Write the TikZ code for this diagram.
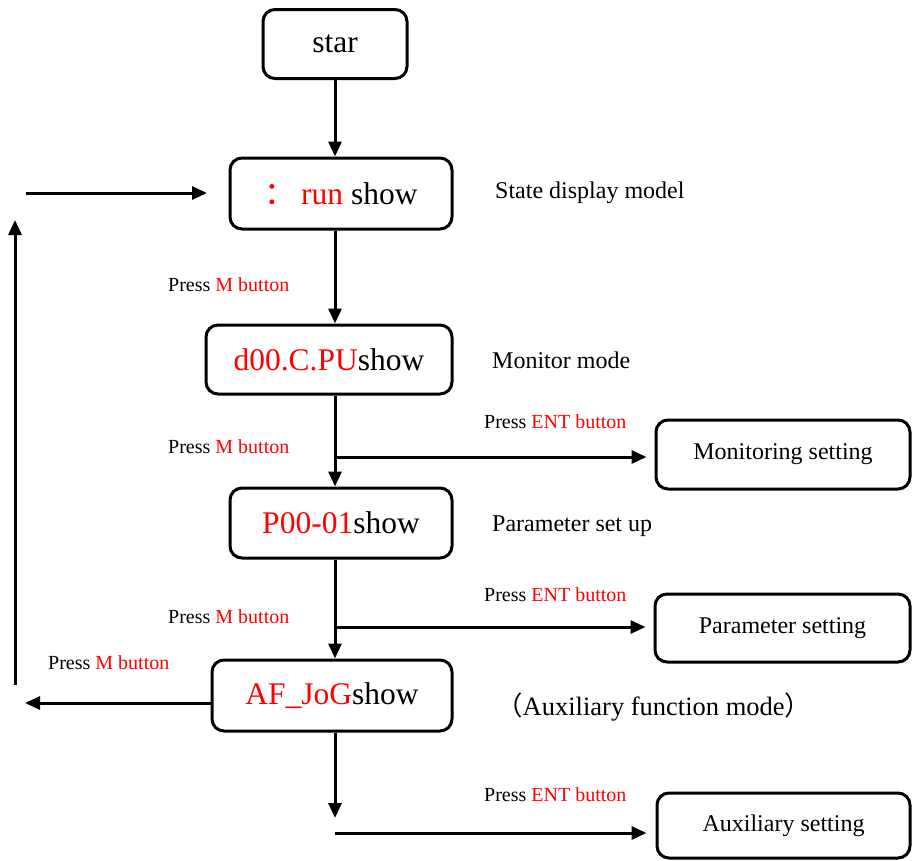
\documentclass[tikz,border=0pt]{standalone}
\usepackage{fontspec}
\setmainfont{Liberation Serif}
\newfontfamily\cjk{Noto Sans CJK SC}
\usetikzlibrary{arrows.meta}
\definecolor{pred}{RGB}{255,0,0}
\tikzset{
  stepbox/.style={draw=black,line width=3pt,rounded corners=12pt,inner sep=0pt,
     font=\fontsize{31.5}{34}\selectfont,text=black},
  setbox/.style={draw=black,line width=3pt,rounded corners=12pt,inner sep=0pt,
     font=\fontsize{24}{26}\selectfont,text=black},
  conn/.style={line width=3pt,-{Triangle[length=15pt,width=13pt]}},
  small/.style={anchor=base west,inner sep=0pt,font=\fontsize{20}{22}\selectfont},
  mid/.style={anchor=base west,inner sep=0pt,font=\fontsize{24}{26}\selectfont},
}
\begin{document}
\begin{tikzpicture}[x=1pt,y=-1pt]
\useasboundingbox (0,0) rectangle (912,860);
% main boxes
\node[stepbox,minimum width=144pt,minimum height=69pt] (star) at (335,44) {star};
\node[stepbox,minimum width=222pt,minimum height=71pt] (run) at (341,193.5) {\textcolor{pred}{\cjk：}\,\textcolor{pred}{run} show};
\node[stepbox,minimum width=246pt,minimum height=69pt] (mon) at (329,359.5) {\textcolor{pred}{d00.C.PU}show};
\node[stepbox,minimum width=222pt,minimum height=70pt] (par) at (341,523) {\textcolor{pred}{P00-01}show};
\node[stepbox,minimum width=240pt,minimum height=71pt] (aux) at (332,695.5) {\textcolor{pred}{AF\_JoG}show};
% setting boxes
\node[setbox,minimum width=254pt,minimum height=69pt] (monset) at (783,454.5) {Monitoring setting};
\node[setbox,minimum width=255pt,minimum height=68pt] (parset) at (782.5,628) {Parameter setting};
\node[setbox,minimum width=253pt,minimum height=65pt] (auxset) at (783.5,825.5) {Auxiliary setting};
% side labels
\node[mid] (l1) at (495,198) {State display model};
\node[mid] (l2) at (492,368) {Monitor mode};
\node[mid] (l3) at (492,531) {Parameter set up};
\node[anchor=base west,inner sep=0pt,font=\fontsize{26.5}{28}\selectfont] (l4) at (496,715) {{\cjk（}Auxiliary function mode{\cjk）}};
% press labels
\node[small] (p1) at (168,291) {Press \textcolor{pred}{M button}};
\node[small] (p2) at (168,453) {Press \textcolor{pred}{M button}};
\node[small] (p3) at (168,623) {Press \textcolor{pred}{M button}};
\node[small] (p4) at (48,669) {Press \textcolor{pred}{M button}};
\node[small] (e1) at (484,428) {Press \textcolor{pred}{ENT button}};
\node[small] (e2) at (484,601) {Press \textcolor{pred}{ENT button}};
\node[small] (e3) at (484,801) {Press \textcolor{pred}{ENT button}};
% coordinates
\coordinate (b1) at (335,457);
\coordinate (b2) at (335,627);
\coordinate (d1) at (335,818);
\coordinate (b3) at (335,833);
\coordinate (lA) at (25,703);
\coordinate (lB) at (15,685);
\coordinate (lC) at (15,220);
\coordinate (lD) at (26,193);
\coordinate (lE) at (207,193);
% connectors
\draw[conn] (star.south) -- (run.north -| star.south);
\draw[conn] (run.south -| star.south) -- (mon.north -| star.south);
\draw[conn] (mon.south -| star.south) -- (par.north -| star.south);
\draw[conn] (par.south -| star.south) -- (aux.north -| star.south);
\draw[conn,shorten >=8pt] (b1) -- (monset.west |- b1);
\draw[conn,shorten >=8pt] (b2) -- (parset.west |- b2);
\draw[conn] (aux.south -| star.south) -- (d1);
\draw[conn,shorten >=9pt] (b3) -- (auxset.west |- b3);
\draw[conn] (aux.west |- lA) -- (lA);
\draw[conn] (lB) -- (lC);
\draw[conn] (lD) -- (lE);
\end{tikzpicture}
\end{document}
